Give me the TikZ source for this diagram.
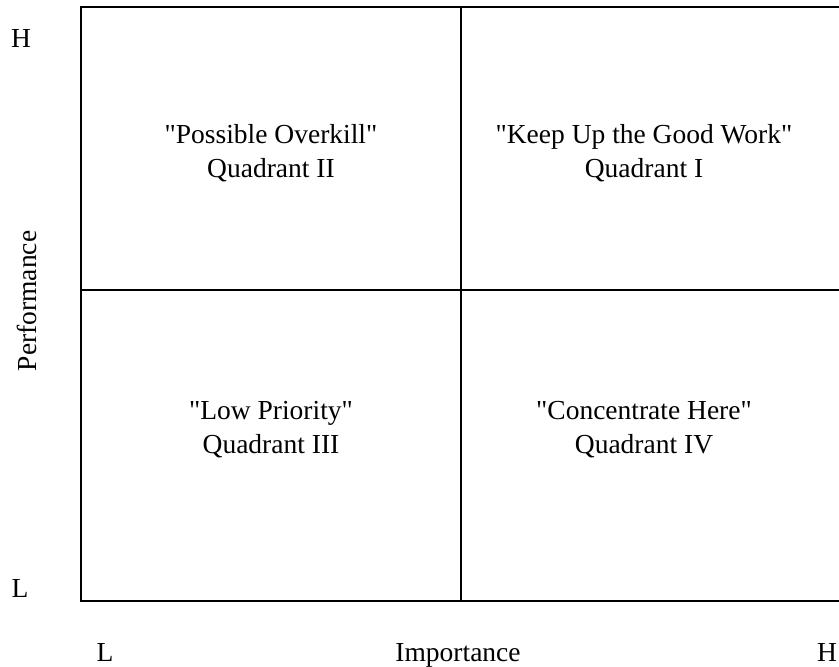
\documentclass[tikz,border=0pt]{standalone}
\usepackage{fontspec}
\setmainfont{Liberation Serif}[Ligatures=TeXOff]
\begin{document}
\begin{tikzpicture}[x=1pt,y=-1pt,
  axisline/.style={line width=2.2pt,line cap=rect},
  lbl/.style={font=\fontsize{27.5}{34}\selectfont,inner sep=0pt,anchor=base},
  quad/.style={font=\fontsize{27.5}{34}\selectfont,inner sep=0pt,align=center,anchor=center}]
\useasboundingbox (0,0) rectangle (839,667);
% frame corners
\coordinate (tl) at (81,7);
\coordinate (tr) at (842,7);
\coordinate (bl) at (81,601);
\coordinate (br) at (842,601);
\coordinate (vt) at (461,7);
\coordinate (vb) at (461,601);
\coordinate (hl) at (81,290);
\coordinate (hr) at (842,290);
\draw[axisline] (tr) -- (tl) -- (bl) -- (br);
\draw[axisline] (vt) -- (vb);
\draw[axisline] (hl) -- (hr);
% quadrant labels
\node[quad] (q2) at (271,153) {"Possible Overkill"\\Quadrant II};
\node[quad] (q1) at (644,153) {"Keep Up the Good Work"\\Quadrant I};
\node[quad] (q3) at (271,430) {"Low Priority"\\Quadrant III};
\node[quad] (q4) at (644,430) {"Concentrate Here"\\Quadrant IV};
% axis labels
\node[lbl] (yh) at (21,47) {H};
\node[lbl] (yl) at (20,597) {L};
\node[lbl] (xl) at (105,661) {L};
\node[lbl] (xname) at (458,661) {Importance};
\node[lbl] (xh) at (827,661) {H};
\node[font=\fontsize{27.5}{34}\selectfont,inner sep=0pt,rotate=90,anchor=center] (yname) at (27,301) {Performance};
\end{tikzpicture}
\end{document}
